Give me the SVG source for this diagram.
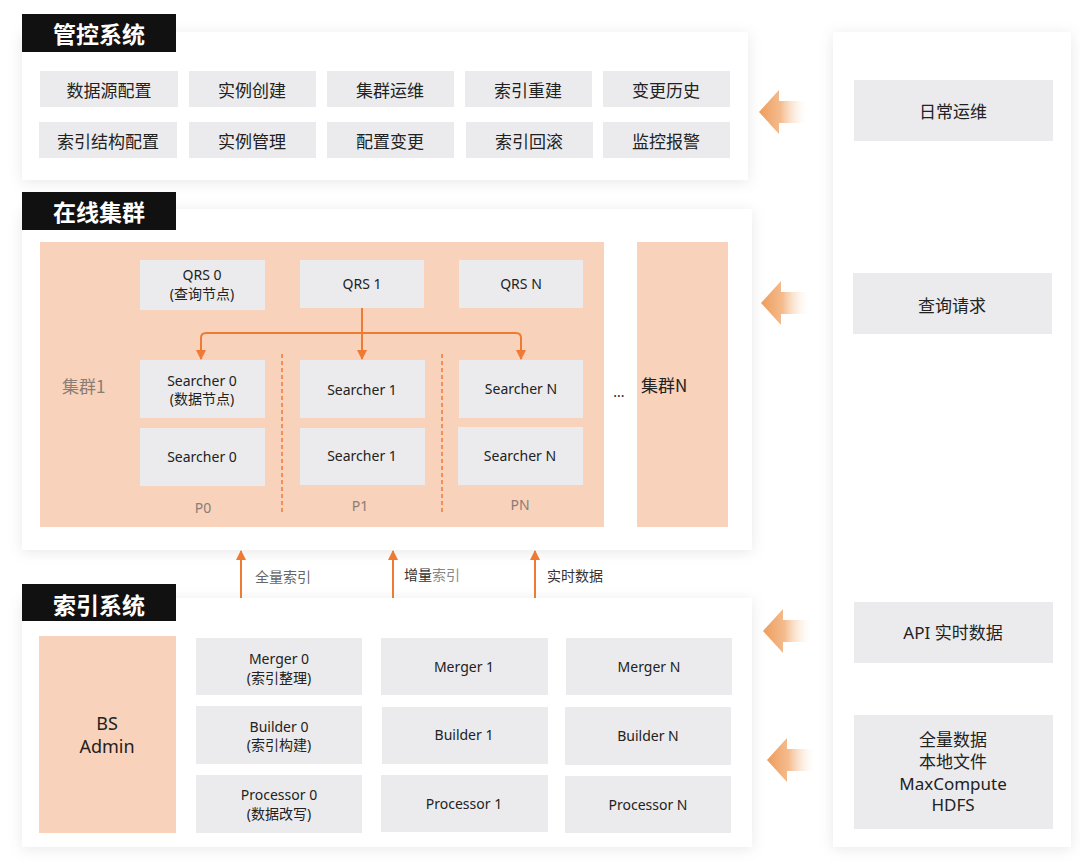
<svg xmlns="http://www.w3.org/2000/svg" width="1080" height="863" viewBox="0 0 1080 863">
<defs>
<style>
text{font-family:"Noto Sans","Noto Sans CJK SC",sans-serif;fill:#222;}
.cjk{font-family:"Noto Sans CJK SC","Noto Sans",sans-serif;}
.panel{fill:#fff;filter:url(#sh);}
.title{fill:#111;}
.ttl{font-family:"Noto Sans CJK SC",sans-serif;font-size:23px;font-weight:bold;fill:#fff;}
.btn{fill:#EBEBED;}
.bt{font-size:17px;}
.nd{font-size:14px;}
.org{fill:#F8D2BA;}
.lbl{font-size:14px;fill:#8a7d76;}
.conn{fill:none;stroke:#EE7A34;stroke-width:2;}
.dash{fill:none;stroke:#EE7A34;stroke-width:1.5;stroke-dasharray:4 3;}
.big{fill:url(#ag);}
</style>
<filter id="sh" x="-10%" y="-10%" width="120%" height="120%">
<feDropShadow dx="0" dy="2" stdDeviation="7" flood-color="#000" flood-opacity="0.09"/>
</filter>
<linearGradient id="ag" x1="0" y1="0" x2="1" y2="0">
<stop offset="0" stop-color="#EE9C5C"/>
<stop offset="0.45" stop-color="#F4BC8E"/>
<stop offset="1" stop-color="#FFFFFF" stop-opacity="0.2"/>
</linearGradient>
<marker id="ah" viewBox="0 0 10 10" refX="9" refY="5" markerWidth="5" markerHeight="5" markerUnits="strokeWidth" orient="auto">
<path d="M0,0 L10,5 L0,10 Z" fill="#EE7A34"/>
</marker>
<path id="bigArrow" d="M0,0 L20,-22 L20,-11 L48,-11 L48,11 L20,11 L20,22 Z"/>
</defs>

<rect x="0" y="0" width="1080" height="863" fill="#fff"/>

<!-- 管控系统 -->
<g id="mgmt">
<rect class="panel" x="22" y="32" width="726" height="148"/>
<rect class="title" x="22" y="14" width="154" height="38"/>
<text class="ttl" x="99" y="33" text-anchor="middle" dominant-baseline="central">管控系统</text>
<g class="cjk">
<rect class="btn" x="40" y="71" width="138" height="36"/><text class="bt cjk" x="109" y="89" text-anchor="middle" dominant-baseline="central">数据源配置</text>
<rect class="btn" x="189" y="71" width="127" height="36"/><text class="bt cjk" x="252" y="89" text-anchor="middle" dominant-baseline="central">实例创建</text>
<rect class="btn" x="327" y="71" width="127" height="36"/><text class="bt cjk" x="390" y="89" text-anchor="middle" dominant-baseline="central">集群运维</text>
<rect class="btn" x="465" y="71" width="127" height="36"/><text class="bt cjk" x="528" y="89" text-anchor="middle" dominant-baseline="central">索引重建</text>
<rect class="btn" x="603" y="71" width="127" height="36"/><text class="bt cjk" x="666" y="89" text-anchor="middle" dominant-baseline="central">变更历史</text>
<rect class="btn" x="39" y="122" width="138" height="36"/><text class="bt cjk" x="108" y="140" text-anchor="middle" dominant-baseline="central">索引结构配置</text>
<rect class="btn" x="189" y="122" width="127" height="36"/><text class="bt cjk" x="252" y="140" text-anchor="middle" dominant-baseline="central">实例管理</text>
<rect class="btn" x="327" y="122" width="127" height="36"/><text class="bt cjk" x="390" y="140" text-anchor="middle" dominant-baseline="central">配置变更</text>
<rect class="btn" x="466" y="122" width="127" height="36"/><text class="bt cjk" x="529" y="140" text-anchor="middle" dominant-baseline="central">索引回滚</text>
<rect class="btn" x="603" y="122" width="127" height="36"/><text class="bt cjk" x="666" y="140" text-anchor="middle" dominant-baseline="central">监控报警</text>
</g>
</g>

<!-- 在线集群 -->
<g id="online">
<rect class="panel" x="22" y="209" width="730" height="341"/>
<rect class="title" x="22" y="192" width="154" height="38"/>
<text class="ttl" x="99" y="211" text-anchor="middle" dominant-baseline="central">在线集群</text>
</g>
<g id="cluster1">
<rect class="org" x="40" y="242" width="564" height="285"/>
<text class="cjk" x="62" y="385" font-size="17" fill="#8a7d76" style="fill:#8a7d76" dominant-baseline="central">集群1</text>
</g>
<g id="qrs0"><rect class="btn" x="140" y="260" width="125" height="50"/>
<text class="nd" x="202" y="274" text-anchor="middle" dominant-baseline="central">QRS 0</text>
<text class="nd" x="202" y="293" text-anchor="middle" dominant-baseline="central">(查询节点)</text></g>
<g id="qrs1"><rect class="btn" x="300" y="260" width="124" height="48"/>
<text class="nd" x="362" y="283" text-anchor="middle" dominant-baseline="central">QRS 1</text></g>
<g id="qrsN"><rect class="btn" x="459" y="260" width="124" height="48"/>
<text class="nd" x="521" y="283" text-anchor="middle" dominant-baseline="central">QRS N</text></g>
<g id="s0a"><rect class="btn" x="140" y="360" width="125" height="58"/>
<text class="nd" x="202" y="380" text-anchor="middle" dominant-baseline="central">Searcher 0</text>
<text class="nd" x="202" y="398" text-anchor="middle" dominant-baseline="central">(数据节点)</text></g>
<g id="s1a"><rect class="btn" x="300" y="360" width="125" height="58"/>
<text class="nd" x="362" y="389" text-anchor="middle" dominant-baseline="central">Searcher 1</text></g>
<g id="sNa"><rect class="btn" x="459" y="360" width="124" height="58"/>
<text class="nd" x="521" y="388" text-anchor="middle" dominant-baseline="central">Searcher N</text></g>
<g id="s0b"><rect class="btn" x="140" y="428" width="125" height="58"/>
<text class="nd" x="202" y="456" text-anchor="middle" dominant-baseline="central">Searcher 0</text></g>
<g id="s1b"><rect class="btn" x="300" y="428" width="125" height="57"/>
<text class="nd" x="362" y="455" text-anchor="middle" dominant-baseline="central">Searcher 1</text></g>
<g id="sNb"><rect class="btn" x="458" y="427" width="125" height="58"/>
<text class="nd" x="520" y="455" text-anchor="middle" dominant-baseline="central">Searcher N</text></g>
<g id="partitions">
<text class="lbl" x="203" y="507" text-anchor="middle" dominant-baseline="central">P0</text>
<text class="lbl" x="360" y="505" text-anchor="middle" dominant-baseline="central">P1</text>
<text class="lbl" x="520" y="504" text-anchor="middle" dominant-baseline="central">PN</text>
</g>
<g id="clusterN">
<text x="619" y="397" font-size="14" text-anchor="middle">...</text>
<rect class="org" x="637" y="242" width="91" height="285"/>
<text class="cjk" x="641" y="384" font-size="17" dominant-baseline="central">集群N</text>
</g>

<!-- 索引系统 -->
<g id="index">
<rect class="panel" x="22" y="598" width="730" height="249"/>
<rect class="title" x="22" y="584" width="154" height="37"/>
<text class="ttl" x="99" y="604" text-anchor="middle" dominant-baseline="central">索引系统</text>
</g>
<g id="bsadmin"><rect class="org" x="39" y="636" width="137" height="197"/>
<text x="107" y="723" font-size="18" text-anchor="middle" dominant-baseline="central">BS</text>
<text x="107" y="746" font-size="18" text-anchor="middle" dominant-baseline="central">Admin</text></g>
<g id="m0"><rect class="btn" x="196" y="638" width="166" height="57"/>
<text class="nd" x="279" y="658" text-anchor="middle" dominant-baseline="central">Merger 0</text>
<text class="nd" x="279" y="677" text-anchor="middle" dominant-baseline="central">(索引整理)</text></g>
<g id="b0"><rect class="btn" x="196" y="706" width="166" height="58"/>
<text class="nd" x="279" y="726" text-anchor="middle" dominant-baseline="central">Builder 0</text>
<text class="nd" x="279" y="744" text-anchor="middle" dominant-baseline="central">(索引构建)</text></g>
<g id="p0"><rect class="btn" x="196" y="775" width="166" height="58"/>
<text class="nd" x="279" y="794" text-anchor="middle" dominant-baseline="central">Processor 0</text>
<text class="nd" x="279" y="813" text-anchor="middle" dominant-baseline="central">(数据改写)</text></g>
<g id="m1"><rect class="btn" x="381" y="638" width="167" height="57"/>
<text class="nd" x="464" y="666" text-anchor="middle" dominant-baseline="central">Merger 1</text></g>
<g id="b1"><rect class="btn" x="382" y="707" width="166" height="57"/>
<text class="nd" x="464" y="734" text-anchor="middle" dominant-baseline="central">Builder 1</text></g>
<g id="p1"><rect class="btn" x="381" y="775" width="167" height="57"/>
<text class="nd" x="464" y="803" text-anchor="middle" dominant-baseline="central">Processor 1</text></g>
<g id="mN"><rect class="btn" x="566" y="638" width="166" height="57"/>
<text class="nd" x="649" y="666" text-anchor="middle" dominant-baseline="central">Merger N</text></g>
<g id="bN"><rect class="btn" x="565" y="707" width="166" height="58"/>
<text class="nd" x="648" y="735" text-anchor="middle" dominant-baseline="central">Builder N</text></g>
<g id="pN"><rect class="btn" x="565" y="776" width="166" height="57"/>
<text class="nd" x="648" y="804" text-anchor="middle" dominant-baseline="central">Processor N</text></g>

<!-- right panel -->
<g id="sources">
<rect class="panel" x="833" y="32" width="238" height="815"/>
</g>
<g id="daily"><rect class="btn" x="854" y="80" width="199" height="61"/>
<text class="bt cjk" x="953" y="110" text-anchor="middle" dominant-baseline="central">日常运维</text></g>
<g id="query"><rect class="btn" x="853" y="273" width="199" height="61"/>
<text class="bt cjk" x="952" y="304" text-anchor="middle" dominant-baseline="central">查询请求</text></g>
<g id="api"><rect class="btn" x="854" y="602" width="199" height="61"/>
<text class="bt" x="953" y="632" text-anchor="middle" dominant-baseline="central">API 实时数据</text></g>
<g id="full"><rect class="btn" x="854" y="715" width="199" height="114"/>
<text class="bt" x="953" y="739" text-anchor="middle" dominant-baseline="central">全量数据</text>
<text class="bt" x="953" y="761" text-anchor="middle" dominant-baseline="central">本地文件</text>
<text class="bt" x="953" y="783" text-anchor="middle" dominant-baseline="central">MaxCompute</text>
<text class="bt" x="953" y="804" text-anchor="middle" dominant-baseline="central">HDFS</text></g>

<!-- connectors -->
<g id="connectors">
<path class="conn" d="M362,308 V359" marker-end="url(#ah)"/>
<path class="conn" d="M201,359 V338 Q201,333 206,333 H516 Q521,333 521,338 V359" marker-end="url(#ah)"/>
<path class="conn" d="M201,338 V359" marker-end="url(#ah)"/>
<line class="dash" x1="282" y1="354" x2="282" y2="514"/>
<line class="dash" x1="442" y1="354" x2="442" y2="514"/>
<path class="conn" d="M241,598 V551" marker-end="url(#ah)"/>
<path class="conn" d="M393,598 V551" marker-end="url(#ah)"/>
<path class="conn" d="M535,598 V551" marker-end="url(#ah)"/>
<text class="cjk" x="255" y="576" font-size="14" style="fill:#666" dominant-baseline="central">全量索引</text>
<text class="cjk" x="404" y="574" font-size="14" dominant-baseline="central"><tspan style="fill:#333">增量</tspan><tspan style="fill:#888">索引</tspan></text>
<text class="cjk" x="547" y="575" font-size="14" style="fill:#333" dominant-baseline="central">实时数据</text>
<use href="#bigArrow" class="big" x="759" y="112"/>
<use href="#bigArrow" class="big" x="761" y="303"/>
<use href="#bigArrow" class="big" x="763" y="631"/>
<use href="#bigArrow" class="big" x="767" y="760"/>
</g>
</svg>
